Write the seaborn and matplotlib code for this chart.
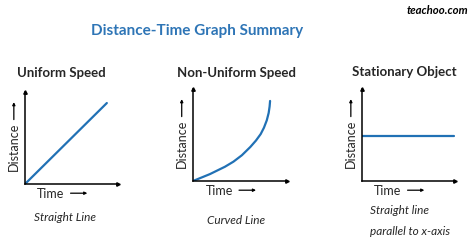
import matplotlib
matplotlib.use("Agg")
import matplotlib.pyplot as plt
import seaborn as sns
import pandas as pd

sns.set_style("white")
plt.rcParams['font.family'] = ['Lato', 'DejaVu Sans']

# ---- data ----
panel_titles = ["Uniform Speed", "Non-Uniform Speed", "Stationary Object"]
captions = ["Straight Line", "Curved Line", "Straight line\nparallel to x-axis"]
uniform_t = [0.0, 0.88]
uniform_d = [0.0, 0.88]
curved_t = [0.0, 0.06, 0.12, 0.18, 0.25, 0.34, 0.43, 0.52, 0.61, 0.67, 0.72,
            0.755, 0.785, 0.805, 0.815, 0.82]
curved_d = [0.0, 0.025, 0.05, 0.075, 0.11, 0.155, 0.21, 0.28, 0.37, 0.44, 0.51,
            0.58, 0.66, 0.74, 0.81, 0.87]
stationary_t = [0.0, 0.99]
stationary_d = [0.49, 0.49]
series = [(uniform_t, uniform_d), (curved_t, curved_d), (stationary_t, stationary_d)]

W, H = 474, 251
fig = plt.figure(figsize=(W / 100, H / 100), dpi=100)

def fx(px):
    return px / W

def fy(py):
    return 1 - py / H

# axes boxes in pixels: left, right, top, bottom
boxes = [(25, 118, 93, 185), (193, 287, 90, 182), (362, 455, 90, 182)]
title_pos = [(61, 73), (236, 73), (404, 72)]
caption_pos = [(65, 218), (236, 221), (370, 221)]
caption_ha = ["center", "center", "left"]
line_color = "#2171B5"

for i, (l, r, t, b) in enumerate(boxes):
    ax = fig.add_axes([fx(l), fy(b), (r - l) / W, (b - t) / H])
    tt, dd = series[i]
    df = pd.DataFrame({"t": tt, "d": dd})
    sns.lineplot(data=df, x="t", y="d", ax=ax, color=line_color, lw=1.6, sort=False,
                 solid_joinstyle="round", solid_capstyle="round")
    ax.set_xlim(0, 1)
    ax.set_ylim(0, 1)
    ax.set_xticks([])
    ax.set_yticks([])
    ax.set_xlabel("")
    ax.set_ylabel("")
    for s in ["top", "right"]:
        ax.spines[s].set_visible(False)
    for s in ["left", "bottom"]:
        ax.spines[s].set_color("black")
        ax.spines[s].set_linewidth(1.1)
    ax.plot(1, 0, ">k", ms=2.5, transform=ax.transAxes, clip_on=False)
    ax.plot(0, 1, "^k", ms=2.5, transform=ax.transAxes, clip_on=False)
    # axis labels with arrows
    ax.text(-0.12, 0.41, "Distance", rotation=90, ha="center", va="center",
            fontsize=9, transform=ax.transAxes)
    ax.annotate("", xy=(-0.12, 0.92), xytext=(-0.12, 0.67), xycoords="axes fraction",
                arrowprops=dict(arrowstyle="-|>", lw=0.9, color="black",
                                mutation_scale=4))
    ax.text(0.28, -0.1, "Time", ha="center", va="center", fontsize=9,
            transform=ax.transAxes)
    ax.annotate("", xy=(0.70, -0.1), xytext=(0.46, -0.1), xycoords="axes fraction",
                arrowprops=dict(arrowstyle="-|>", lw=0.9, color="black",
                                mutation_scale=4))
    px, py = title_pos[i]
    fig.text(fx(px), fy(py), panel_titles[i], ha="center", va="center",
             fontsize=9.5, fontweight="bold")
    cx, cy = caption_pos[i]
    fig.text(fx(cx), fy(cy), captions[i], ha=caption_ha[i], va="center",
             fontsize=8.5, style="italic", linespacing=2.1)

fig.text(fx(197), fy(31), "Distance-Time Graph Summary", ha="center", va="center",
         fontsize=11, fontweight="bold", color="#2E75B6")
fig.text(fx(468), fy(10), "teachoo.com", ha="right", va="center",
         fontsize=8.2, fontweight="bold", style="italic", color="black")

fig.savefig("out.png", dpi=100)
